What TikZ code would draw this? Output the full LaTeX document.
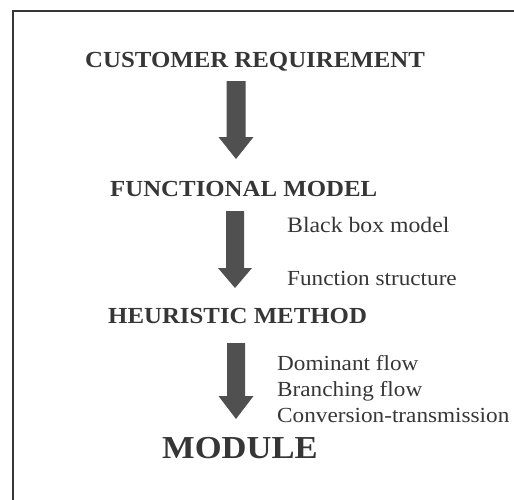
\documentclass[tikz,border=0pt]{standalone}
\usepackage{fontspec}
\setmainfont{Liberation Serif}[FakeStretch=1.08]
\definecolor{ink}{HTML}{363636}
\definecolor{arrowgray}{HTML}{505050}
\tikzset{
  title/.style={anchor=base west, inner sep=0pt, text=ink, font=\bfseries\fontsize{23}{26}\selectfont},
  bigtitle/.style={anchor=base west, inner sep=0pt, text=ink, font=\bfseries\fontsize{32}{36}\selectfont},
  note/.style={anchor=base west, inner sep=0pt, text=ink, font=\fontsize{21.5}{24}\selectfont},
  blockarrow/.style={fill=arrowgray, draw=none},
  frame/.style={draw=ink, line width=2pt}
}
\newcommand{\myblockarrow}[6]{% cx, shaft half, head half, top, headbase, tip
  \fill[blockarrow] (#1-#2,#4) -- (#1+#2,#4) -- (#1+#2,#5) -- (#1+#3,#5) -- (#1,#6) -- (#1-#3,#5) -- (#1-#2,#5) -- cycle;}
\begin{document}
\begin{tikzpicture}[x=1pt,y=-1pt]
\useasboundingbox (0,0) rectangle (514,499);
\draw[frame] (13,502) -- (13,11) -- (517,11);
\node[title] (cr) at (85,67) {CUSTOMER REQUIREMENT};
\node[title] (fm) at (110,196) {FUNCTIONAL MODEL};
\node[title] (hm) at (108,323) {HEURISTIC METHOD};
\node[bigtitle] (mod) at (162,458) {MODULE};
\node[note, font=\fontsize{22}{24}\selectfont] (bb) at (287,232) {Black box model};
\node[note] (fs) at (287,285) {Function structure};
\node[note] (df) at (277,370) {Dominant flow};
\node[note] (bf) at (277,396) {Branching flow};
\node[note] (ct) at (277,422) {Conversion-transmission};
\myblockarrow{236}{9.5}{17.5}{81}{137}{159}
\myblockarrow{235}{9}{17}{211}{268}{288}
\myblockarrow{236}{9}{17.5}{343}{396}{419}
\end{tikzpicture}
\end{document}
